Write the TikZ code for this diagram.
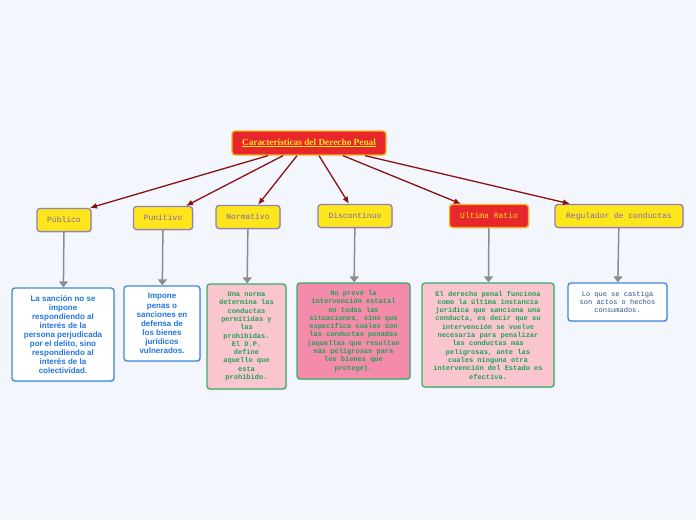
\documentclass[tikz,border=0pt]{standalone}
\usepackage{fontspec}
\setmainfont{Liberation Serif}
\setsansfont{Liberation Sans}
\setmonofont{Liberation Mono}
\usepackage{tikz}
\usetikzlibrary{arrows.meta, shadows}

\definecolor{fondo}{HTML}{F3F6FD}
\definecolor{rojo}{HTML}{E8272D}
\definecolor{amarillo}{HTML}{FFE51C}
\definecolor{borde}{HTML}{F2B81C}
\definecolor{lila}{HTML}{8E82B8}
\definecolor{lilatexto}{HTML}{7A68A8}
\definecolor{rojooscuro}{HTML}{8B1212}
\definecolor{gris}{HTML}{8C8C8C}
\definecolor{azul}{HTML}{3C88E0}
\definecolor{azultexto}{HTML}{2276DD}
\definecolor{azuloscuro}{HTML}{2D4F8F}
\definecolor{rosa}{HTML}{F9C5CF}
\definecolor{rosafuerte}{HTML}{F48BAB}
\definecolor{verde}{HTML}{3DAA6A}
\definecolor{verdetexto}{HTML}{24A058}

\begin{document}
\begin{tikzpicture}[
  x=1pt, y=-1pt,
  base/.style={draw, rounded corners=3pt, line width=1.3pt, align=center, inner sep=0pt},
  sombra/.style={drop shadow={shadow xshift=1pt, shadow yshift=-1pt, opacity=0.25}},
  tema/.style={base, fill=rojo, draw=borde, text=amarillo,
               font=\bfseries\fontsize{9.3}{11}\selectfont},
  rama/.style={base, sombra, fill=amarillo, draw=lila, text=lilatexto,
               font=\ttfamily\fontsize{8}{10}\selectfont, minimum height=23pt},
  ultima/.style={rama, fill=rojo, draw=borde, text=amarillo},
  nota/.style={base, sombra, fill=white, draw=azul, text=azultexto,
               font=\sffamily\bfseries\fontsize{8}{9.1}\selectfont},
  hoja/.style={base, sombra, fill=rosa, draw=verde, text=verdetexto,
               font=\ttfamily\bfseries\fontsize{7}{8.3}\selectfont},
  flecha/.style={-{Latex[length=7pt, width=6pt]}, rojooscuro, line width=1.3pt},
  baja/.style={-{Triangle[length=6pt, width=9pt]}, gris, line width=1.5pt}
]
\fill[fondo] (0,0) rectangle (696,520);
\useasboundingbox (0,0) rectangle (696,520);

\node[tema, minimum width=154pt, minimum height=24pt] (dp) at (309,143)
  {\underline{Características del Derecho Penal}};

\node[rama, minimum width=54pt] (pub) at (64,220) {Público};
\node[rama, minimum width=59pt] (pun) at (163,218) {Punitivo};
\node[rama, minimum width=64pt] (nor) at (248,217) {Normativo};
\node[rama, minimum width=74pt] (dis) at (355,216) {Discontinuo};
\node[ultima, minimum width=79pt] (ult) at (489,216) {Ultima Ratio};
\node[rama, minimum width=128pt] (reg) at (619,216) {Regulador de conductas};

\node[nota, minimum width=102pt, minimum height=93pt] (n1) at (63,334.5)
  {La sanción no se\\impone\\respondiendo al\\interés de la\\persona perjudicada\\
   por el delito, sino\\respondiendo al\\interés de la\\colectividad.};
\node[nota, minimum width=76pt, minimum height=75pt] (n2) at (162,323.5)
  {Impone\\penas o\\sanciones en\\defensa de\\los bienes\\jurídicos\\vulnerados.};
\node[hoja, minimum width=79pt, minimum height=105pt] (n3) at (246.5,336.5)
  {Una norma\\determina las\\conductas\\permitidas y\\las\\prohibidas.\\El D.P.\\define\\
   aquello que\\esta\\prohibido.};
\node[hoja, fill=rosafuerte, minimum width=113pt, minimum height=96pt] (n4) at (353.5,331)
  {No prevé la\\intervención estatal\\en todas las\\situaciones, sino que\\
   especifica cuáles son\\las conductas penadas\\(aquellas que resultan\\
   más peligrosas para\\los bienes que\\protege).};
\node[hoja, minimum width=132pt, minimum height=104pt] (n5) at (488,335)
  {El derecho penal funciona\\como la última instancia\\jurídica que sanciona una\\
   conducta, es decir que su\\intervención se vuelve\\necesaria para penalizar\\
   las conductas más\\peligrosas, ante las\\cuales ninguna otra\\
   intervención del Estado es\\efectiva.};
\node[nota, text=azuloscuro, font=\ttfamily\fontsize{7}{8.3}\selectfont,
      minimum width=99pt, minimum height=38pt] (n6) at (617.5,302)
  {Lo que se castiga\\son actos o hechos\\consumados.};

\foreach \a/\b/\c in {-41/pub/26, -26/pun/23, -12/nor/10, 10/dis/-6, 34/ult/-28, 56/reg/-49}
  \draw[flecha] ([xshift=\a pt]dp.south) -- ([xshift=\c pt]\b.north);
\foreach \x/\y in {pub/n1, pun/n2, nor/n3, dis/n4, ult/n5, reg/n6}
  \draw[baja] (\x) -- (\y);
\end{tikzpicture}
\end{document}
